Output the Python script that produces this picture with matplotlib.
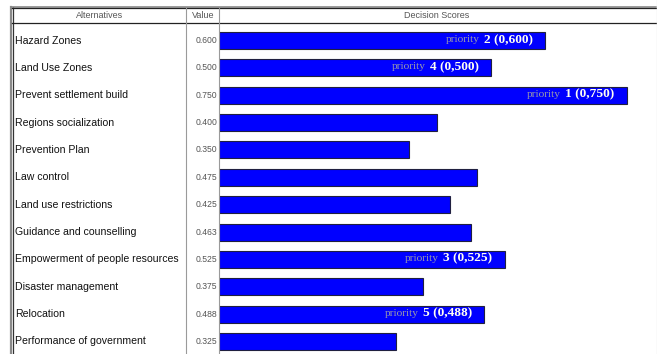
import matplotlib
matplotlib.use("Agg")
import matplotlib.pyplot as plt
from matplotlib.lines import Line2D
from matplotlib import transforms

alternatives = [
    "Hazard Zones", "Land Use Zones", "Prevent settlement build",
    "Regions socialization", "Prevention Plan", "Law control",
    "Land use restrictions", "Guidance and counselling",
    "Empowerment of people resources", "Disaster management",
    "Relocation", "Performance of government",
]
values = [0.600, 0.500, 0.750, 0.400, 0.350, 0.475, 0.425, 0.463,
          0.525, 0.375, 0.488, 0.325]
value_labels = ["0.600", "0.500", "0.750", "0.400", "0.350", "0.475",
                "0.425", "0.463", "0.525", "0.375", "0.488", "0.325"]
priorities = {2: "1 (0,750)", 0: "2 (0,600)", 8: "3 (0,525)",
              1: "4 (0,500)", 10: "5 (0,488)"}
headers = ["Alternatives", "Value", "Decision Scores"]

W, H = 657, 354
fig = plt.figure(figsize=(W / 100, H / 100), dpi=100)
fig.patch.set_facecolor("white")

def fx(x):
    return x / W

def fy(y):
    return 1 - y / H

# bar axes
x0, x1, ytop = 219, 656, 23
ax = fig.add_axes([fx(x0), 0, fx(x1) - fx(x0), fy(ytop)])
ax.axis("off")
row_px = 27.36
top_off = 17.5 / row_px
ax.set_ylim(-top_off + (H - ytop) / row_px, -top_off)
ax.set_xlim(0, (x1 - x0) / 544.0)
ypos = list(range(len(alternatives)))
ax.barh(ypos, values, height=0.62, color="#0000FF",
        edgecolor="#202040", linewidth=0.8, align="center")

# labels and values
blend = transforms.blended_transform_factory(fig.transFigure, ax.transData)
for i, (name, vl) in enumerate(zip(alternatives, value_labels)):
    ax.text(fx(15), i, name, transform=blend, ha="left", va="center",
            fontsize=7.6, family="Liberation Sans", color="#111111", clip_on=False)
    ax.text(fx(217.5), i, vl, transform=blend, ha="right", va="center",
            fontsize=6.2, family="Liberation Sans", color="#555555",
            clip_on=False)

# priority labels
for i, lab in priorities.items():
    t = ax.annotate(lab, xy=(values[i], i), xytext=(-9, 0.5),
                    textcoords="offset points", ha="right", va="center",
                    fontsize=9.6, family="Liberation Serif", fontweight="bold",
                    color="#fffff2")
    ax.annotate("priority", xy=(0, 0.14), xycoords=t, xytext=(-3, 0),
                textcoords="offset points", ha="right", va="bottom",
                fontsize=8.2, family="Liberation Serif", color="#9a9aaa")

# header
fig.text(fx(100), fy(16), headers[0], ha="center", va="center",
         fontsize=6.5, family="Liberation Sans", color="#555555")
fig.text(fx(203), fy(16), headers[1], ha="center", va="center",
         fontsize=6.5, family="Liberation Sans", color="#555555")
fig.text(fx(437), fy(16), headers[2], ha="center", va="center",
         fontsize=6.5, family="Liberation Sans", color="#555555")

def line(xs, ys, color, lw):
    fig.add_artist(Line2D([fx(v) for v in xs], [fy(v) for v in ys],
                          color=color, linewidth=lw,
                          transform=fig.transFigure, zorder=0.5))

line([10.5, 10.5], [7, H], "#8a8a8a", 1.6)
line([12.8, 12.8], [7, H], "#333333", 0.9)
line([11, 656], [7.2, 7.2], "#8a8a8a", 1.2)
line([12, 656], [8.3, 8.3], "#222222", 0.9)
line([12, 656], [23.2, 23.2], "#222222", 0.9)
line([186, 186], [8, H], "#9a9a9a", 0.8)
line([219, 219], [8, H], "#9a9a9a", 0.8)
line([656.5, 656.5], [0, H], "#e6e6e6", 1.0)

fig.savefig("out.png", dpi=100, facecolor="white")
